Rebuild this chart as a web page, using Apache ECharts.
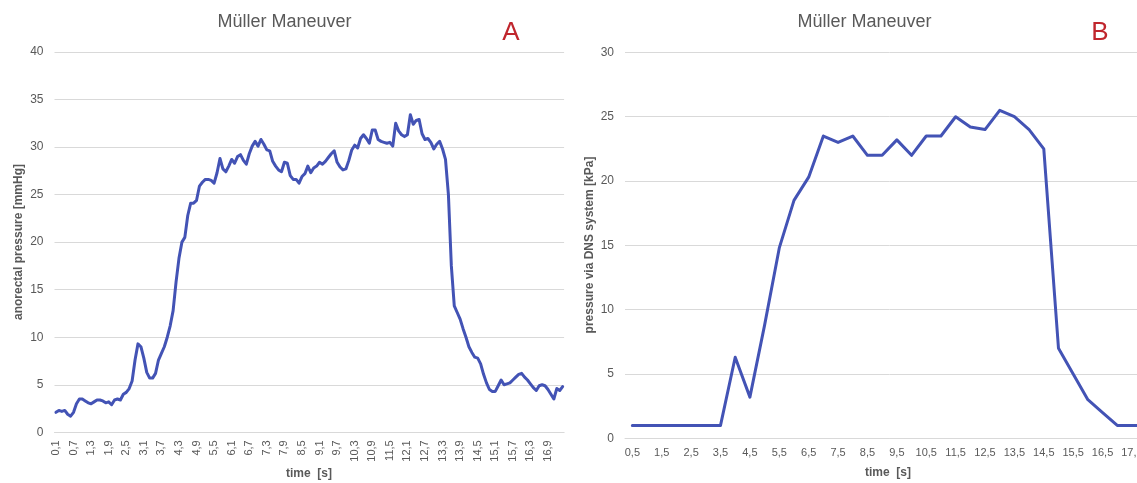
<!DOCTYPE html>
<html>
<head>
<meta charset="utf-8">
<script src="https://cdn.jsdelivr.net/npm/echarts@6/dist/echarts.min.js"></script>
<style>
  html, body { margin: 0; padding: 0; background: #fff; overflow: hidden; }
  #chart { width: 1160px; height: 483px; }
</style>
</head>
<body>
<div id="chart"></div>
<script>
// Panel A: anorectal pressure, sampled every 0.1 s from 0.1 s
const timeStartA = 0.1;
const timeStepA = 0.1;
const pressureA = [
  2.1, 2.3, 2.2, 2.3, 1.9, 1.7, 2.1, 3.0, 3.5, 3.5,
  3.3, 3.1, 3.0, 3.2, 3.4, 3.4, 3.3, 3.1, 3.2, 2.9,
  3.4, 3.5, 3.4, 4.0, 4.2, 4.6, 5.4, 7.6, 9.3, 9.0,
  7.8, 6.3, 5.7, 5.7, 6.2, 7.6, 8.3, 9.0, 10.0, 11.2,
  12.8, 15.8, 18.3, 20.0, 20.5, 22.8, 24.1, 24.1, 24.4, 25.9,
  26.3, 26.6, 26.6, 26.5, 26.2, 27.3, 28.8, 27.7, 27.4, 28.0,
  28.7, 28.3, 29.0, 29.2, 28.6, 28.2, 29.3, 30.1, 30.6, 30.1,
  30.8, 30.3, 29.7, 29.6, 28.5, 28.0, 27.6, 27.4, 28.4, 28.3,
  27.0, 26.6, 26.6, 26.2, 26.9, 27.2, 28.0, 27.3, 27.8, 28.0,
  28.4, 28.2, 28.5, 28.9, 29.3, 29.6, 28.4, 27.9, 27.6, 27.7,
  28.6, 29.7, 30.2, 29.9, 30.9, 31.3, 30.9, 30.4, 31.8, 31.8,
  30.8, 30.6, 30.5, 30.4, 30.5, 30.1, 32.5, 31.7, 31.3, 31.1,
  31.3, 33.4, 32.4, 32.8, 32.9, 31.4, 30.8, 30.9, 30.5, 29.8,
  30.3, 30.6, 29.8, 28.7, 25.0, 17.5, 13.3, 12.6, 11.9, 10.9,
  10.0, 9.0, 8.4, 7.9, 7.8, 7.2, 6.1, 5.2, 4.5, 4.3,
  4.3, 4.9, 5.5, 5.0, 5.1, 5.2, 5.5, 5.8, 6.1, 6.2,
  5.8, 5.5, 5.1, 4.7, 4.4, 4.9, 5.0, 4.9, 4.5, 4.0,
  3.5, 4.6, 4.4, 4.8
];

// Panel B: pressure via DNS system, sampled every 0.5 s from 0.5 s
const timeStartB = 0.5;
const timeStepB = 0.5;
const pressureB = [
  1.0, 1.0, 1.0, 1.0, 1.0, 1.0, 1.0, 6.3, 3.2, 8.8,
  14.8, 18.5, 20.3, 23.5, 23.0, 23.5, 22.0, 22.0, 23.2, 22.0,
  23.5, 23.5, 25.0, 24.2, 24.0, 25.5, 25.0, 24.0, 22.5, 7.0,
  5.0, 3.0, 2.0, 1.0, 1.0, 1.0
];

// Tick values of the two pressure axes
const yTicksA = [0, 5, 10, 15, 20, 25, 30, 35, 40];
const yTicksB = [0, 5, 10, 15, 20, 25, 30];

const titleText = 'Müller Maneuver';
const panelLetters = ['A', 'B'];
const yNameA = 'anorectal pressure [mmHg]';
const yNameB = 'pressure via DNS system [kPa]';
const xName = 'time  [s]';

// Time labels use a decimal comma
function timeLabels(start, step, n) {
  const out = [];
  for (let i = 0; i < n; i++) {
    out.push((start + step * i).toFixed(1).replace('.', ','));
  }
  return out;
}
const timesA = timeLabels(timeStartA, timeStepA, pressureA.length);
const timesB = timeLabels(timeStartB, timeStepB, pressureB.length);

const FONT = '"Liberation Sans", Arial, sans-serif';
const GREY = '#595959';
const GRID_LINE = '#d9d9d9';
const LINE = '#4353b5';
const RED = '#c0262d';

const gridA = { left: 54.5, top: 52, width: 509.6, height: 380.3 };
const gridB = { left: 625, top: 52.4, width: 529, height: 385.9 };

function yAxisFor(gridIndex, ticks) {
  return {
    type: 'value', gridIndex,
    min: ticks[0], max: ticks[ticks.length - 1], interval: ticks[1] - ticks[0],
    axisLine: { show: false }, axisTick: { show: false },
    splitLine: { lineStyle: { color: GRID_LINE, width: 1 } },
    axisLabel: { color: GREY, fontSize: 12, fontFamily: FONT, margin: 11 }
  };
}

function xAxisFor(gridIndex, cats, extra) {
  return Object.assign({
    type: 'category', gridIndex, data: cats, boundaryGap: true,
    axisLine: { show: true, lineStyle: { color: GRID_LINE, width: 1 } },
    axisTick: { show: false },
    splitLine: { show: false }
  }, extra);
}

const chart = echarts.init(document.getElementById('chart'), null, { renderer: 'canvas' });

chart.setOption({
  backgroundColor: '#ffffff',
  animation: false,
  grid: [
    Object.assign({ containLabel: false }, gridA),
    Object.assign({ containLabel: false }, gridB)
  ],
  xAxis: [
    xAxisFor(0, timesA, {
      axisLabel: { color: GREY, fontSize: 11, fontFamily: FONT, rotate: 90, interval: 5, margin: 8 }
    }),
    xAxisFor(1, timesB, {
      axisLabel: { color: GREY, fontSize: 11, fontFamily: FONT, interval: 1, margin: 9 }
    })
  ],
  yAxis: [yAxisFor(0, yTicksA), yAxisFor(1, yTicksB)],
  series: [
    {
      type: 'line', xAxisIndex: 0, yAxisIndex: 0, data: pressureA,
      showSymbol: false, symbol: 'none',
      lineStyle: { color: LINE, width: 3, join: 'round', cap: 'round' }
    },
    {
      type: 'line', xAxisIndex: 1, yAxisIndex: 1, data: pressureB,
      showSymbol: false, symbol: 'none',
      lineStyle: { color: LINE, width: 3, join: 'round', cap: 'round' }
    }
  ],
  graphic: [
    { type: 'text', x: 284.5, y: 22, style: { text: titleText, fill: GREY, font: '18px ' + FONT, textAlign: 'center', textVerticalAlign: 'middle' } },
    { type: 'text', x: 864.5, y: 22, style: { text: titleText, fill: GREY, font: '18px ' + FONT, textAlign: 'center', textVerticalAlign: 'middle' } },
    { type: 'text', x: 511, y: 33, style: { text: panelLetters[0], fill: RED, font: '26px ' + FONT, textAlign: 'center', textVerticalAlign: 'middle' } },
    { type: 'text', x: 1100, y: 33, style: { text: panelLetters[1], fill: RED, font: '26px ' + FONT, textAlign: 'center', textVerticalAlign: 'middle' } },
    { type: 'text', x: 18.5, y: 242, rotation: Math.PI / 2, style: { text: yNameA, fill: GREY, font: 'bold 12px ' + FONT, textAlign: 'center', textVerticalAlign: 'middle' } },
    { type: 'text', x: 589.5, y: 245, rotation: Math.PI / 2, style: { text: yNameB, fill: GREY, font: 'bold 12px ' + FONT, textAlign: 'center', textVerticalAlign: 'middle' } },
    { type: 'text', x: 309, y: 474, style: { text: xName, fill: GREY, font: 'bold 12px ' + FONT, textAlign: 'center', textVerticalAlign: 'middle' } },
    { type: 'text', x: 888, y: 473, style: { text: xName, fill: GREY, font: 'bold 12px ' + FONT, textAlign: 'center', textVerticalAlign: 'middle' } }
  ]
});
</script>
</body>
</html>
